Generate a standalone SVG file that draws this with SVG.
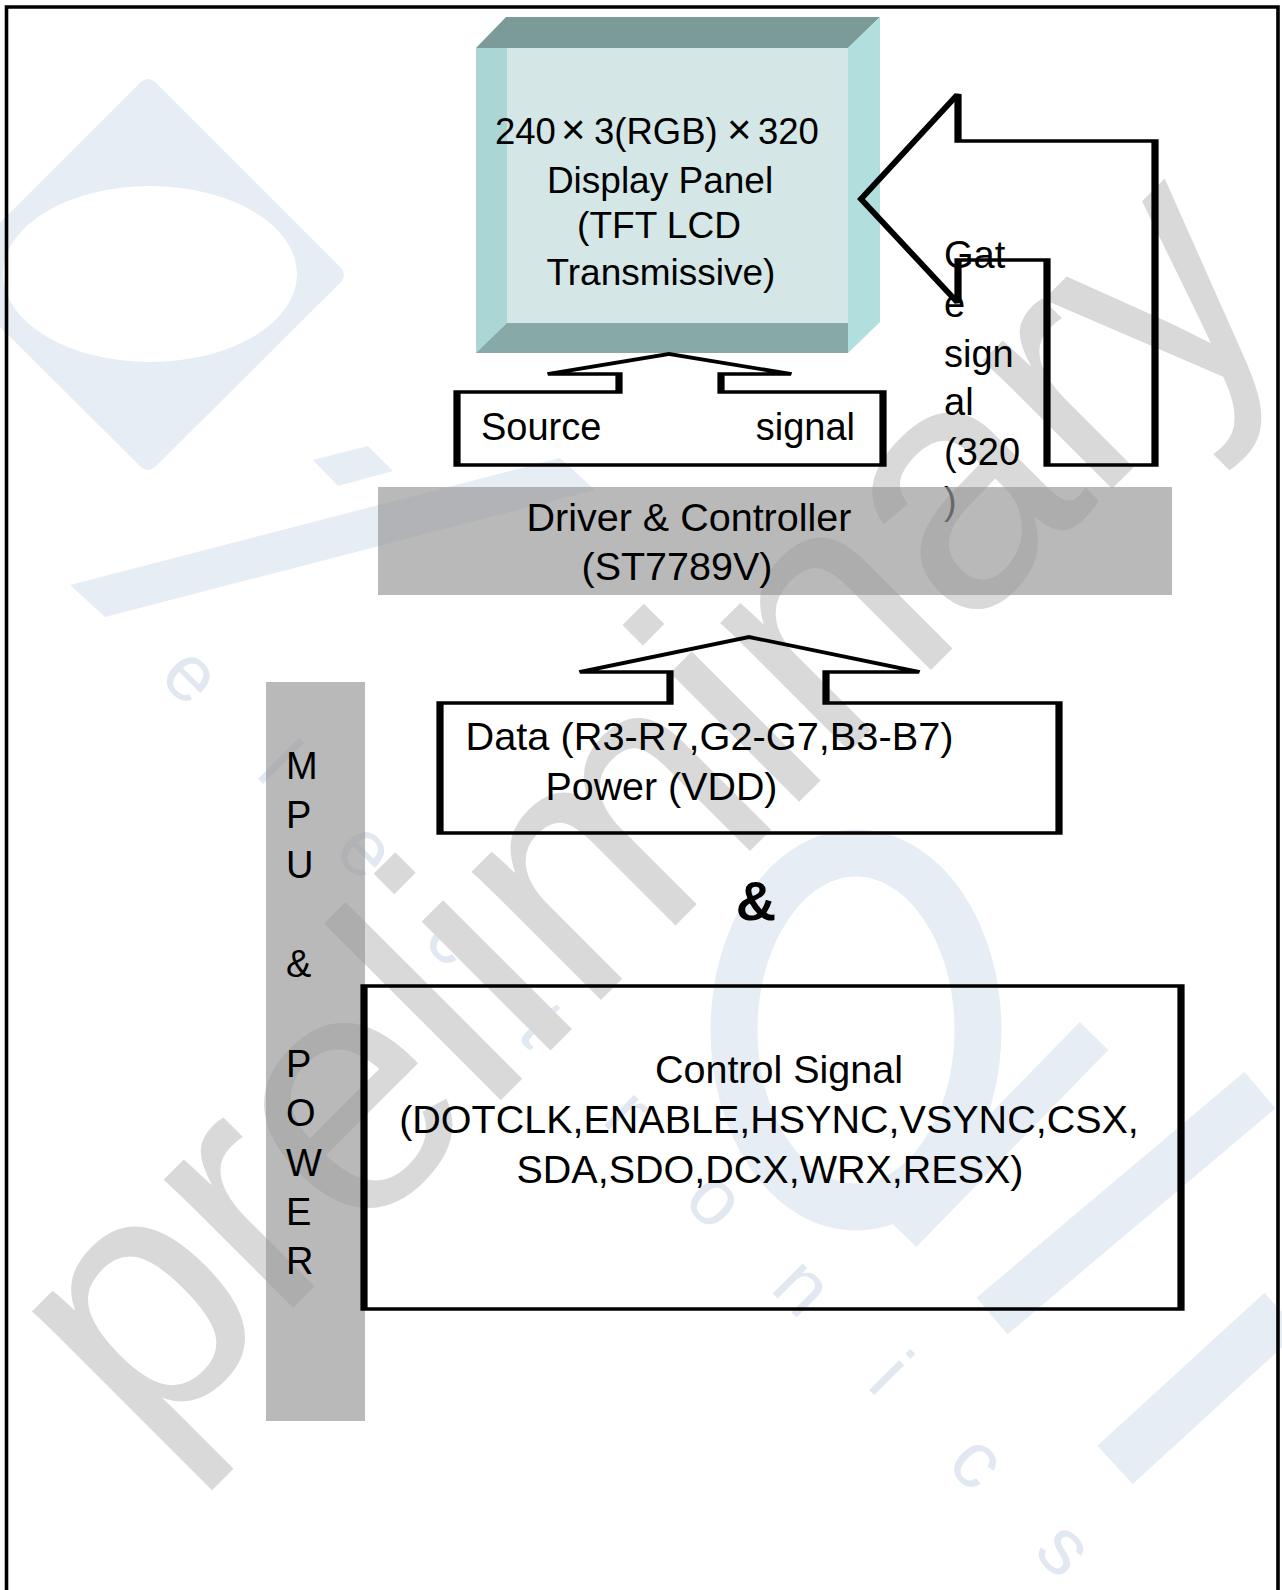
<svg xmlns="http://www.w3.org/2000/svg" width="1282" height="1590" viewBox="0 0 1282 1590">
<style>
.t{font-family:"Liberation Sans",Arial,sans-serif;fill:#000}
.sh{fill:none;stroke:#000;stroke-width:3.6;stroke-linejoin:miter}
.wm{fill:#e7edf5}
.bar{fill:#999;fill-opacity:0.684}
</style>
<rect width="1282" height="1590" fill="#fff"/>
<g id="watermark">
  <polygon class="wm" points="148,89 334,275 148,460 -38,275" stroke="#e7edf5" stroke-width="20" stroke-linejoin="round"/>
  <ellipse cx="150" cy="274" rx="147" ry="88" fill="#fff"/>
  <polygon class="wm" points="70,585 560,458 595,490 105,617"/>
  <polygon class="wm" points="313,460 368,446 393,471 338,486"/>
  <ellipse cx="856" cy="1030" rx="122" ry="177" fill="none" stroke="#e7edf5" stroke-width="47"/>
  <line x1="1094" y1="1036" x2="902" y2="1233" stroke="#e7edf5" stroke-width="40"/>
  <line x1="992" y1="1316" x2="1260" y2="1090" stroke="#e7edf5" stroke-width="48"/>
  <line x1="1115" y1="1465" x2="1282" y2="1312" stroke="#e7edf5" stroke-width="52"/>
  <text class="t" transform="translate(188,679) rotate(45)" y="21" x="0 123.5 247 370.5 494 617.5 741 864.5 988 1111.5 1235" text-anchor="middle" font-size="80" style="fill:#e2e8f2">electronics</text>
  <text class="t" transform="translate(145,1456) rotate(-45)" font-size="345" textLength="1625" lengthAdjust="spacing" style="fill:#d9d9d9">preliminary</text>
</g>
<path id="frame" d="M6.5,1590 V7 H1278 V1590" fill="none" stroke="#000" stroke-width="3.6"/>
<g id="panel">
  <rect x="476" y="48" width="372" height="305" fill="#d4e6e6"/>
  <polygon points="476,48 506,17 880,17 848,48" fill="#7b9b99"/>
  <polygon points="848,48 880,17 880,322 848,353" fill="#b0dfdd"/>
  <polygon points="476,48 507,48 507,323 476,353" fill="#aad6d5"/>
  <polygon points="476,353 507,323 848,323 848,353" fill="#87aaa9"/>
  <text class="t" font-size="36.5"><tspan x="495" y="144">240</tspan><tspan x="561" y="144" font-size="42">×</tspan><tspan x="594" y="144">3(RGB)</tspan><tspan x="727" y="144" font-size="42">×</tspan><tspan x="758" y="144">320</tspan></text>
  <text class="t" font-size="37" text-anchor="middle"><tspan x="660" y="193">Display Panel</tspan><tspan x="659" y="238">(TFT LCD</tspan><tspan x="661" y="285">Transmissive)</tspan></text>
</g>
<g id="connectors">
  <g id="source-signal">
    <path class="sh" transform="scale(2 1)" d="M228.5,392 H309.5 V374 H274 L334.5,354 L395.5,374 H360.5 V392 H441.5 V465 H228.5 Z"/>
    <text class="t" x="481" y="440" font-size="38">Source</text>
    <text class="t" x="855" y="440" font-size="38" text-anchor="end">signal</text>
  </g>
  <g id="gate-signal">
    <path class="sh" transform="scale(2 1)" d="M430.5,199 L479,94 V141 H577.5 V465 H523.5 V260 H479 V303 Z"/>
    <text class="t" font-size="38"><tspan x="944" y="268">Gat</tspan><tspan x="944" y="317">e</tspan><tspan x="944" y="367">sign</tspan><tspan x="944" y="415">al</tspan><tspan x="944" y="465">(320</tspan><tspan x="944" y="514">)</tspan></text>
  </g>
  <g id="data-power">
    <path class="sh" transform="scale(2 1)" d="M220,703 H335 V672 H290 L374.5,637 L459.5,672 H413 V703 H529.5 V833 H220 Z"/>
    <text class="t" x="465.5" y="750" font-size="39.5" textLength="488" lengthAdjust="spacingAndGlyphs">Data (R3-R7,G2-G7,B3-B7)</text>
    <text class="t" x="545.5" y="800" font-size="39.5" textLength="232" lengthAdjust="spacingAndGlyphs">Power (VDD)</text>
  </g>
</g>
<g id="driver">
  <rect class="bar" x="378" y="487" width="794" height="108"/>
  <text class="t" font-size="39.5" text-anchor="middle"><tspan x="689" y="531">Driver &amp; Controller</tspan><tspan x="677" y="580">(ST7789V)</tspan></text>
</g>
<g id="mpu-power">
  <rect class="bar" x="266" y="682" width="99" height="739"/>
  <text class="t" font-size="38"><tspan x="286" y="779">M</tspan><tspan x="286" y="828">P</tspan><tspan x="286" y="878">U</tspan><tspan x="286" y="977">&amp;</tspan><tspan x="286" y="1077">P</tspan><tspan x="286" y="1126">O</tspan><tspan x="286" y="1176">W</tspan><tspan x="286" y="1225">E</tspan><tspan x="286" y="1274">R</tspan></text>
</g>
<g id="and">
  <text class="t" x="756" y="920" font-size="56" font-weight="bold" text-anchor="middle">&amp;</text>
</g>
<g id="control-signal">
  <path class="sh" transform="scale(2 1)" d="M182,986 H590.5 V1309 H182 Z"/>
  <text class="t" font-size="39.5" text-anchor="middle"><tspan x="779" y="1083">Control Signal</tspan><tspan x="769" y="1133">(DOTCLK,ENABLE,HSYNC,VSYNC,CSX,</tspan><tspan x="770" y="1183">SDA,SDO,DCX,WRX,RESX)</tspan></text>
</g>
</svg>
